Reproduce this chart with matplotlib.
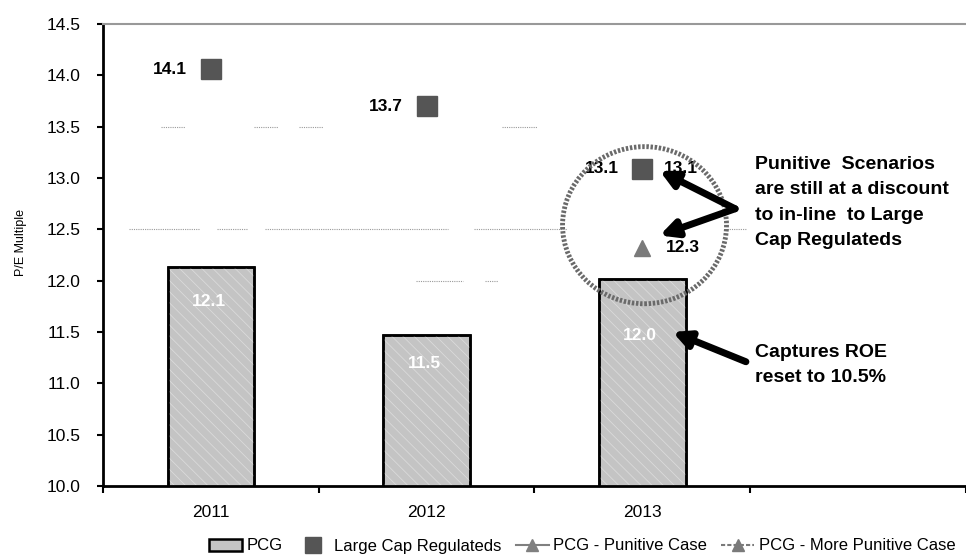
import numpy as np
import matplotlib.pyplot as plt
from matplotlib.patches import Ellipse

plt.rcParams['font.family'] = ['Liberation Sans', 'DejaVu Sans']
plt.rcParams['hatch.linewidth'] = 0.6

# data
years = ['2011', '2012', '2013']
pcg = [12.13, 11.47, 12.02]
pcg_labels = ['12.1', '11.5', '12.0']
pcg_label_drop = [0.33, 0.28, 0.55]
large_cap = [14.06, 13.70, 13.09]
large_cap_labels = ['14.1', '13.7', '13.1']
punitive = [np.nan, np.nan, 13.09]
more_punitive = [np.nan, np.nan, 12.32]

# faint dotted leftovers of gridlines: (y, x0, x1) in category units
grid_bits = [
    (13.5, -0.23, -0.12), (13.5, 0.20, 0.31), (13.5, 0.41, 0.52), (13.5, 1.35, 1.51),
    (12.5, -0.38, -0.05), (12.5, 0.03, 0.17), (12.5, 0.25, 1.10), (12.5, 1.22, 1.65),
    (12.5, 2.39, 2.48),
    (12.0, 0.95, 1.17), (12.0, 1.27, 1.33),
]

fig = plt.figure(figsize=(9.66, 5.57), dpi=100)
ax = fig.add_axes([0.1066, 0.1275, 0.8934, 0.8295])

x = np.arange(len(years))

for y, x0, x1 in grid_bits:
    ax.plot([x0, x1], [y, y], color='#9a9a9a', lw=0.8, ls=(0, (1, 1)), zorder=1)

ax.bar(x, pcg, width=0.4, color='#c4c4c4', edgecolor='black',
       linewidth=1.8, label='PCG', zorder=2)
# light diagonal texture inside the bars
ax.bar(x, pcg, width=0.4, color='none', edgecolor='#dadada', hatch='\\\\\\',
       linewidth=0, zorder=2.1)
ax.bar(x, pcg, width=0.4, color='none', edgecolor='black', linewidth=1.8, zorder=2.2)

for xi, v, lab, d in zip(x, pcg, pcg_labels, pcg_label_drop):
    ax.text(xi - 0.01, v - d, lab, color='white', ha='center', va='center',
            fontsize=12.5, fontweight='bold', zorder=5)

ax.plot(x, punitive, color='#808080', marker='^', markersize=11, lw=1.5,
        label='PCG - Punitive Case', zorder=3)
ax.plot(x, more_punitive, color='#7a7a7a', marker='^', markersize=11, lw=1.5,
        ls=(0, (2, 1)), label='PCG - More Punitive Case', zorder=3)
ax.plot(x, large_cap, ls='none', marker='s', markersize=14, color='#555555',
        label='Large Cap Regulateds', zorder=4)

for xi, v, lab in zip(x, large_cap, large_cap_labels):
    ax.text(xi - 0.11, v, lab, ha='right', va='center', fontsize=12.5,
            fontweight='bold', zorder=5)
ax.text(2 + 0.10, punitive[2], '13.1', ha='left', va='center', fontsize=12.5,
        fontweight='bold', zorder=5)
ax.text(2 + 0.11, more_punitive[2], '12.3', ha='left', va='center', fontsize=12.5,
        fontweight='bold', zorder=5)

# highlight circle
ax.add_patch(Ellipse((2.01, 12.54), 0.76, 1.53, fill=False, ec='#6a6a6a',
                     lw=3.5, ls=(0, (0.5, 0.35)), zorder=6))

# annotations
arrow = dict(arrowstyle='-|>,head_length=1.0,head_width=0.5', color='black',
             lw=5, shrinkA=0, shrinkB=0)
ax.annotate('', xy=(2.08, 13.07), xytext=(2.43, 12.70), arrowprops=arrow, zorder=7)
ax.annotate('', xy=(2.08, 12.44), xytext=(2.43, 12.70), arrowprops=arrow, zorder=7)
ax.text(2.52, 12.76, 'Punitive  Scenarios\nare still at a discount\nto in-line  to Large\nCap Regulateds',
        ha='left', va='center', fontsize=14, fontweight='bold', linespacing=1.65)
ax.annotate('', xy=(2.14, 11.50), xytext=(2.48, 11.21), arrowprops=arrow, zorder=7)
ax.text(2.52, 11.18, 'Captures ROE\nreset to 10.5%', ha='left', va='center',
        fontsize=14, fontweight='bold', linespacing=1.65)

ax.set_xlim(-0.5, 3.5)
ax.set_ylim(10.0, 14.5)
yticks = np.arange(10.0, 14.51, 0.5)
ax.set_yticks(yticks)
ax.set_yticklabels([f'{v:.1f}' for v in yticks])
ax.set_xticks(x)
ax.set_xticklabels(years)
ax.set_xticks(np.arange(-0.5, 3.6, 1.0), minor=True)
ax.tick_params(axis='x', which='major', length=0, labelsize=12.5, pad=14)
ax.tick_params(axis='x', which='minor', length=5, width=1.5, direction='out')
ax.tick_params(axis='y', length=4, width=1.5, direction='out', labelsize=12.5, pad=12)
ax.set_ylabel('P/E Multiple', fontsize=9)
ax.yaxis.set_label_coords(-0.088, 0.528)

ax.spines['right'].set_visible(False)
ax.spines['top'].set_color('#999999')
ax.spines['top'].set_linewidth(1.5)
ax.spines['left'].set_linewidth(2)
ax.spines['bottom'].set_linewidth(2)

handles, labels = ax.get_legend_handles_labels()
order = [labels.index(n) for n in ['PCG', 'Large Cap Regulateds',
                                    'PCG - Punitive Case', 'PCG - More Punitive Case']]
fig.legend([handles[i] for i in order], [labels[i] for i in order],
           loc='center', bbox_to_anchor=(582 / 966, 1 - 546 / 557), ncol=4,
           frameon=False, fontsize=12, handlelength=2.0, columnspacing=0.85,
           handletextpad=0.25, markerscale=0.8, borderaxespad=0)

fig.savefig('out.png', dpi=100)
